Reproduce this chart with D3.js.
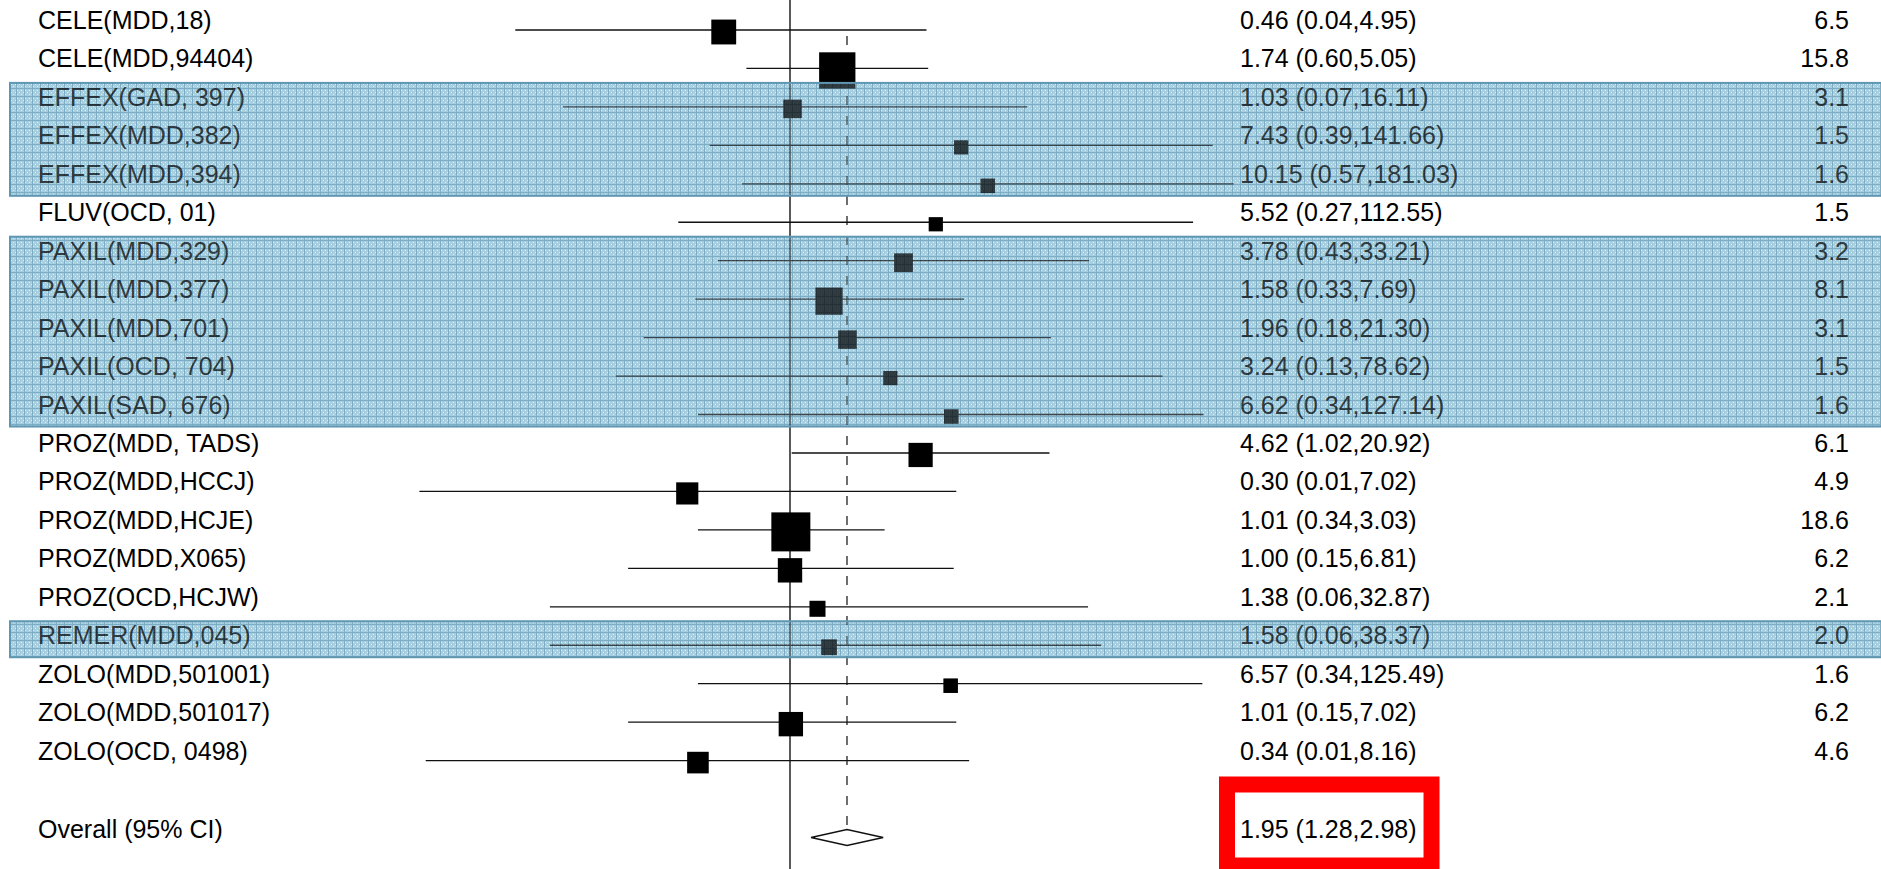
<!DOCTYPE html>
<html>
<head>
<meta charset="utf-8">
<script src="https://cdn.jsdelivr.net/npm/d3@7"></script>
<style>
  body { margin: 0; background: #fff; }
  svg { display: block; font-family: "Liberation Sans", Arial, sans-serif; }
</style>
</head>
<body>
<script>
var width = 1881,
    height = 869;

// study data
var studies = ["CELE(MDD,18)", "CELE(MDD,94404)", "EFFEX(GAD, 397)", "EFFEX(MDD,382)",
  "EFFEX(MDD,394)", "FLUV(OCD, 01)", "PAXIL(MDD,329)", "PAXIL(MDD,377)", "PAXIL(MDD,701)",
  "PAXIL(OCD, 704)", "PAXIL(SAD, 676)", "PROZ(MDD, TADS)", "PROZ(MDD,HCCJ)", "PROZ(MDD,HCJE)",
  "PROZ(MDD,X065)", "PROZ(OCD,HCJW)", "REMER(MDD,045)", "ZOLO(MDD,501001)",
  "ZOLO(MDD,501017)", "ZOLO(OCD, 0498)"];
var oddsRatio = [0.46, 1.74, 1.03, 7.43, 10.15, 5.52, 3.78, 1.58, 1.96, 3.24, 6.62,
  4.62, 0.30, 1.01, 1.00, 1.38, 1.58, 6.57, 1.01, 0.34];
var lower = [0.04, 0.60, 0.07, 0.39, 0.57, 0.27, 0.43, 0.33, 0.18, 0.13, 0.34,
  1.02, 0.013, 0.34, 0.15, 0.06, 0.06, 0.34, 0.15, 0.014];
var upper = [4.95, 5.05, 16.11, 141.66, 181.03, 112.55, 33.21, 7.69, 21.30, 78.62, 127.14,
  20.92, 7.02, 3.03, 6.81, 32.87, 38.37, 125.49, 7.02, 8.16];
var weights = [6.5, 15.8, 3.1, 1.5, 1.6, 1.5, 3.2, 8.1, 3.1, 1.5, 1.6,
  6.1, 4.9, 18.6, 6.2, 2.1, 2.0, 1.6, 6.2, 4.6];

var overallLabel = "Overall (95% CI)";
var overall = [1.95, 1.28, 2.98];

// highlighted groups (first row, last row)
var bands = [[2, 4], [6, 10], [16, 16]];

var fmt = d3.format(".2f"),
    fmtW = d3.format(".1f");

var x = d3.scaleLog().domain([0.01, 100]).range([397, 1183]);
var y = d3.scaleLinear().domain([0, 21]).range([30, 837.5]);
var side = d3.scaleSqrt().domain([0, 18.6]).range([4.4, 39]);

var svg = d3.select("body").append("svg")
    .attr("width", width)
    .attr("height", height);

var defs = svg.append("defs");
var pat = defs.append("pattern")
    .attr("id", "grid")
    .attr("width", 8).attr("height", 8)
    .attr("patternUnits", "userSpaceOnUse");
pat.append("rect").attr("width", 8).attr("height", 8).attr("fill", "#a8cfe0");
[[1, 2], [3, 4], [5, 2], [1, 6], [5, 6], [3, 0], [7, 4]].forEach(function(p) {
  pat.append("rect").attr("x", p[0]).attr("y", p[1])
    .attr("width", 1).attr("height", 1).attr("fill", "#dcecf3");
});
pat.append("path")
    .attr("d", "M0,0.5H8M0.5,0V8")
    .attr("stroke", "#7cadc5")
    .attr("stroke-width", 1);

function bandRect(sel) {
  sel.attr("x", 10)
    .attr("y", function(d) { return y(d[0]) - 24; })
    .attr("width", width)
    .attr("height", function(d) { return y(d[1]) - y(d[0]) + 36; });
}

// band backgrounds
svg.append("g").selectAll("rect")
  .data(bands)
  .enter().append("rect")
    .call(bandRect)
    .attr("fill", "url(#grid)");

// line of no effect and pooled estimate
svg.append("line")
    .attr("x1", x(1)).attr("x2", x(1))
    .attr("y1", 0).attr("y2", height)
    .attr("stroke", "#222").attr("stroke-width", 1.5);

svg.append("line")
    .attr("x1", x(overall[0])).attr("x2", x(overall[0]))
    .attr("y1", 36).attr("y2", y(21) - 8)
    .attr("stroke", "#222").attr("stroke-width", 1.3)
    .attr("stroke-dasharray", "9,11");

var rows = svg.append("g").selectAll("g")
  .data(studies)
  .enter().append("g");

rows.append("line")
    .attr("x1", function(d, i) { return x(lower[i]); })
    .attr("x2", function(d, i) { return x(upper[i]); })
    .attr("y1", function(d, i) { return y(i); })
    .attr("y2", function(d, i) { return y(i); })
    .attr("stroke", "#111").attr("stroke-width", 1.3);

rows.append("rect")
    .attr("x", function(d, i) { return x(oddsRatio[i]) - side(weights[i]) / 2; })
    .attr("y", function(d, i) { return y(i) + 2 - side(weights[i]) / 2; })
    .attr("width", function(d, i) { return side(weights[i]); })
    .attr("height", function(d, i) { return side(weights[i]); })
    .attr("fill", "#000");

rows.append("text")
    .attr("x", 38)
    .attr("y", function(d, i) { return y(i) - 1; })
    .attr("font-size", 25)
    .text(function(d) { return d; });

rows.append("text")
    .attr("x", 1240)
    .attr("y", function(d, i) { return y(i) - 1; })
    .attr("font-size", 25)
    .text(function(d, i) { return fmt(oddsRatio[i]) + " (" + fmt(lower[i]) + "," + fmt(upper[i]) + ")"; });

rows.append("text")
    .attr("x", 1849)
    .attr("y", function(d, i) { return y(i) - 1; })
    .attr("font-size", 25)
    .attr("text-anchor", "end")
    .text(function(d, i) { return fmtW(weights[i]); });

// overall diamond
var oy = y(21);
svg.append("path")
    .attr("d", "M" + x(overall[1]) + "," + oy +
      "L" + x(overall[0]) + "," + (oy - 8) +
      "L" + x(overall[2]) + "," + oy +
      "L" + x(overall[0]) + "," + (oy + 8) + "Z")
    .attr("fill", "#fff")
    .attr("stroke", "#111").attr("stroke-width", 1.3);

svg.append("text")
    .attr("x", 38).attr("y", oy)
    .attr("font-size", 25)
    .text(overallLabel);

var ovText = svg.append("text")
    .attr("x", 1240).attr("y", oy)
    .attr("font-size", 25)
    .text(fmt(overall[0]) + " (" + fmt(overall[1]) + "," + fmt(overall[2]) + ")");

// red highlight box round the pooled estimate
var bb = ovText.node().getBBox();
svg.append("rect")
    .attr("x", bb.x - 13)
    .attr("y", oy - 53)
    .attr("width", bb.width + 28)
    .attr("height", 81)
    .attr("fill", "none")
    .attr("stroke", "#ff0000")
    .attr("stroke-width", 16);

// translucent overlay so the highlighted rows take on the band colour
svg.append("g").selectAll("rect")
  .data(bands)
  .enter().append("rect")
    .call(bandRect)
    .attr("fill", "url(#grid)")
    .attr("fill-opacity", 0.28)
    .attr("stroke", "#5f97b2")
    .attr("stroke-width", 2);
</script>
</body>
</html>
